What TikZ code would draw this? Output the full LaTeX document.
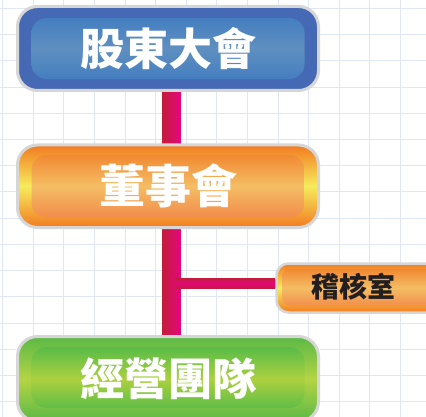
\documentclass[tikz,border=0pt]{standalone}
\usepackage{fontspec}
\newfontfamily\cjk{Noto Sans CJK TC}
\pgfdeclarelayer{bg}
\pgfsetlayers{bg,main}
\definecolor{gridc}{RGB}{224,231,242}
\definecolor{rimc}{RGB}{214,214,214}
\definecolor{blueo}{RGB}{70,105,181}
\definecolor{bluei}{RGB}{58,120,192}
\definecolor{blueim}{RGB}{95,143,192}
\definecolor{orgo}{RGB}{242,123,34}
\definecolor{orgom}{RGB}{246,236,92}
\definecolor{orgi}{RGB}{240,122,36}
\definecolor{orgim}{RGB}{244,189,100}
\definecolor{orgib}{RGB}{242,124,66}
\definecolor{grno}{RGB}{91,185,71}
\definecolor{grnom}{RGB}{180,212,67}
\definecolor{grni}{RGB}{61,181,74}
\definecolor{grnim}{RGB}{172,208,63}
\definecolor{crim}{RGB}{196,28,60}
\definecolor{mage}{RGB}{228,6,128}
\definecolor{txtd}{RGB}{35,31,32}
\tikzset{
  gridline/.style={draw=gridc, line width=0.8pt},
  box/.style={draw=rimc, line width=3pt, rounded corners=20pt, inner sep=0pt,
    font=\cjk\bfseries\fontsize{44}{48}\selectfont, text=white},
  bluebox/.style={box, fill=blueo,
    path picture={\shade[top color=bluei, bottom color=bluei, middle color=blueim, rounded corners=15pt]
      ([shift={(14pt,-11.5pt)}]path picture bounding box.north west) rectangle
      ([shift={(-14pt,11.5pt)}]path picture bounding box.south east);}},
  orgbox/.style={box, top color=orgo, bottom color=orgo, middle color=orgom,
    path picture={\shade[top color=orgi, bottom color=orgib, middle color=orgim, rounded corners=15pt]
      ([shift={(14pt,-10pt)}]path picture bounding box.north west) rectangle
      ([shift={(-14pt,10pt)}]path picture bounding box.south east);}},
  grnbox/.style={box, top color=grno, bottom color=grno, middle color=grnom,
    path picture={\shade[top color=grni, bottom color=grni, middle color=grnim, rounded corners=15pt]
      ([shift={(14pt,-10.5pt)}]path picture bounding box.north west) rectangle
      ([shift={(-14pt,13.5pt)}]path picture bounding box.south east);}},
  smallbox/.style={draw=rimc, line width=2.5pt, rounded corners=12pt, inner sep=0pt,
    top color=orgo, bottom color=orgo, middle color=orgom,
    path picture={\shade[top color=orgi, bottom color=orgib, middle color=orgim, rounded corners=9pt]
      ([shift={(5.5pt,-5pt)}]path picture bounding box.north west) rectangle
      ([shift={(-5.5pt,6.5pt)}]path picture bounding box.south east);}},
  smalltext/.style={font=\cjk\bfseries\fontsize{28}{32}\selectfont, text=txtd, inner sep=0pt},
  vbar/.style={left color=crim, right color=mage},
  hbar/.style={top color=crim, bottom color=crim, middle color=mage},
}
\begin{document}
\begin{tikzpicture}[x=1pt,y=-1pt]
\useasboundingbox (0,0) rectangle (426,417);
\clip (0,0) rectangle (426,417);
% boxes
\node[bluebox, minimum width=301pt, minimum height=84pt] (gd) at (168,48.5) {\raisebox{2pt}{股東大會}};
\node[orgbox, minimum width=301pt, minimum height=82.5pt] (bd) at (168,186.25) {\raisebox{3pt}{\fontsize{46}{50}\selectfont 董事會}};
\node[smallbox, minimum width=183.5pt, minimum height=49pt] (au) at (368.25,288) {};
\node[smalltext] (aut) at (353.5,286.5) {稽核室};
\node[grnbox, minimum width=301pt, minimum height=85pt] (mt) at (168,379) {\raisebox{2pt}{經營團隊}};
\coordinate (j) at (175,283.3);
\begin{pgfonlayer}{bg}
\fill[white] (0,0) rectangle (426,417);
\foreach \i in {0,...,13} \draw[gridline] ({2.5+30.6*\i},0) -- ++(0,417);
\foreach \j in {0,...,15} \draw[gridline] (0,{8.5+26.2*\j}) -- ++(426,0);
% connectors
\shade[vbar] (gd.south -| 162.7,0) rectangle (mt.north -| 180.7,0);
\shade[hbar] (j |- 0,278.3) rectangle (au.west |- 0,288.3);
\end{pgfonlayer}
\end{tikzpicture}
\end{document}
